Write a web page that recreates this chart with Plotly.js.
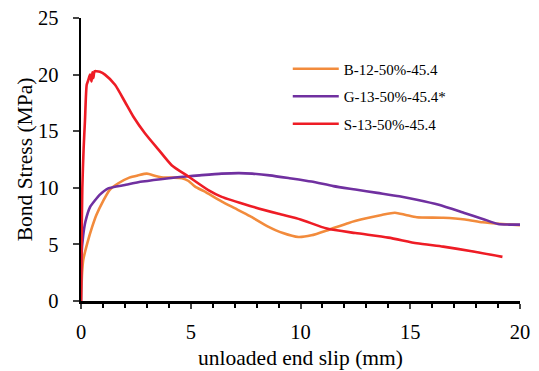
<!DOCTYPE html>
<html><head><meta charset="utf-8">
<script src="https://cdn.plot.ly/plotly-3.0.1.min.js"></script>
<style>html,body{margin:0;padding:0;background:#fff}#c{width:539px;height:371px}</style>
</head><body><div id="c"></div>
<script>
const seriesNames = ["B-12-50%-45.4", "G-13-50%-45.4*", "S-13-50%-45.4"];
const bX = [0, 0.05, 0.1, 0.3, 0.5, 0.7, 1.0, 1.3, 1.7, 2.2, 2.6, 3.0, 3.4, 3.8, 4.2, 4.6, 4.9, 5.2, 5.6, 6.4, 7.0, 7.7, 8.5, 9.2, 9.9, 10.5, 11.3, 12.2, 13.0, 13.7, 14.3, 14.8, 15.3, 16.5, 17.5, 18.3, 19.2, 20.0];
const bY = [0, 2.5, 3.6, 5.2, 6.5, 7.6, 8.8, 9.8, 10.4, 10.9, 11.1, 11.25, 11.05, 10.9, 10.9, 10.85, 10.6, 10.1, 9.7, 8.8, 8.2, 7.5, 6.6, 6.0, 5.65, 5.8, 6.3, 6.9, 7.3, 7.6, 7.8, 7.6, 7.4, 7.35, 7.2, 6.95, 6.8, 6.7];
const gX = [0, 0.02, 0.1, 0.2, 0.41, 0.64, 0.86, 1.24, 2.0, 2.8, 4.0, 4.8, 5.4, 6.4, 7.2, 7.8, 8.6, 9.5, 10.5, 11.5, 12.5, 13.5, 14.5, 15.3, 16.3, 17.5, 18.3, 19.0, 19.5, 20.0];
const gY = [0, 4.0, 5.8, 7.0, 8.3, 8.9, 9.4, 9.95, 10.25, 10.55, 10.85, 11.0, 11.1, 11.25, 11.3, 11.25, 11.1, 10.85, 10.55, 10.15, 9.85, 9.55, 9.25, 8.95, 8.5, 7.75, 7.25, 6.8, 6.75, 6.75];
const sX = [0, 0.02, 0.06, 0.12, 0.18, 0.26, 0.33, 0.41, 0.48, 0.52, 0.56, 0.62, 0.71, 0.86, 1.09, 1.55, 2.0, 2.38, 2.92, 3.52, 4.13, 4.89, 5.8, 6.41, 7.7, 9.0, 10.0, 11.2, 12.5, 14.0, 15.3, 16.5, 17.8, 19.2];
const sY = [0, 4.0, 10.0, 13.5, 15.9, 19.1, 19.5, 20.0, 19.4, 20.2, 19.7, 20.3, 20.3, 20.25, 20.0, 19.1, 17.6, 16.3, 14.8, 13.4, 12.0, 11.0, 9.8, 9.2, 8.4, 7.7, 7.2, 6.4, 6.0, 5.6, 5.1, 4.8, 4.4, 3.9];
const colors = ["#F28B3C", "#7030A0", "#EE1C25"];

const xs = [bX, gX, sX], ys = [bY, gY, sY];
const traces = seriesNames.map((n, i) => ({
  x: xs[i], y: ys[i], name: n, type: "scatter", mode: "lines", legendgroup: "g" + i,
  line: {color: colors[i], width: 2.6, shape: "spline", smoothing: 0.6}
}));
const serif = "Liberation Serif, Times New Roman, serif";
const tickFont = {family: serif, color: "#000", size: 20.5};
const titleFont = {family: serif, color: "#000", size: 21.5};
const legFont = {family: serif, color: "#000", size: 15};
const layout = {
  width: 539, height: 371,
  margin: {l: 81, r: 19, t: 18, b: 70},
  paper_bgcolor: "#fff", plot_bgcolor: "#fff",
  showlegend: true,
  legend: {x: 0.471, y: 0.878, xanchor: "left", yanchor: "top", bgcolor: "rgba(0,0,0,0)",
    font: legFont, traceorder: "grouped", tracegroupgap: 5, itemwidth: 46},
  xaxis: {range: [0, 20], tickvals: [0, 5, 10, 15, 20], ticks: "outside", ticklen: 5, tickwidth: 2,
    showline: true, linecolor: "#000", linewidth: 2.5, showgrid: false, zeroline: false,
    minor: {dtick: 1, ticks: "outside", ticklen: 4, tickwidth: 2, tickcolor: "#000", showgrid: false},
    tickfont: tickFont, ticklabelstandoff: 6, automargin: false,
    title: {text: "unloaded end slip (mm)", font: titleFont, standoff: 8}},
  yaxis: {range: [0, 25], tickvals: [0, 5, 10, 15, 20, 25], ticks: "outside", ticklen: 6, tickwidth: 2,
    showline: true, linecolor: "#000", linewidth: 2.5, showgrid: false, zeroline: false,
    tickfont: tickFont, ticklabelstandoff: 10, automargin: false,
    title: {text: "Bond Stress (MPa)", font: titleFont, standoff: 0}}
};
Plotly.newPlot("c", traces, layout, {displayModeBar: false, staticPlot: true});
</script></body></html>
